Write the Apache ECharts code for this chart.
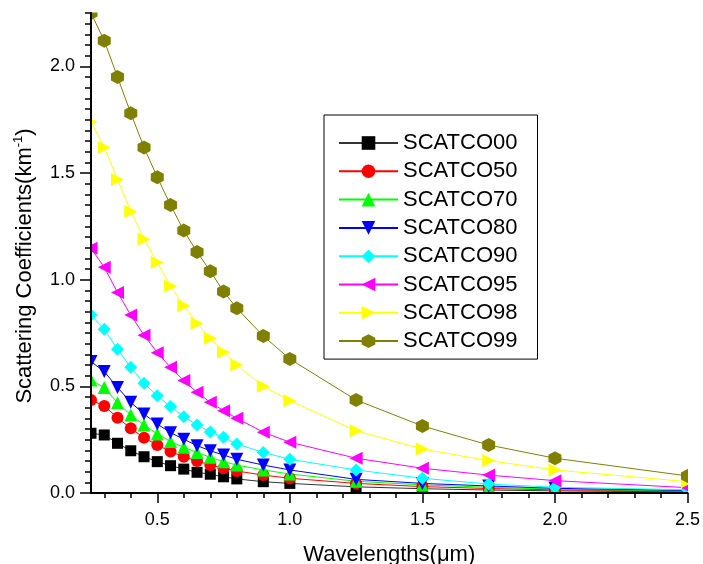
<!DOCTYPE html>
<html>
<head>
<meta charset="utf-8">
<script src="https://cdn.jsdelivr.net/npm/echarts@6/dist/echarts.min.js"></script>
<style>
html,body{margin:0;padding:0;background:#fff;}
#c{width:703px;height:564px;}
</style>
</head>
<body>
<div id="c"></div>
<script>
var wavelengths = [0.25,0.3,0.35,0.4,0.45,0.5,0.55,0.6,0.65,0.7,0.75,0.8,0.9,1.0,1.25,1.5,1.75,2.0,2.5];
var seriesNames = ['SCATCO00','SCATCO50','SCATCO70','SCATCO80','SCATCO90','SCATCO95','SCATCO98','SCATCO99'];
var scatco00 = [0.28,0.272,0.233,0.198,0.17,0.147,0.128,0.112,0.097,0.088,0.076,0.066,0.053,0.045,0.029,0.02,0.014,0.01,0.005];
var scatco50 = [0.436,0.408,0.353,0.303,0.259,0.225,0.194,0.17,0.15,0.131,0.116,0.103,0.084,0.069,0.045,0.03,0.021,0.015,0.008];
var scatco70 = [0.53,0.494,0.423,0.366,0.319,0.277,0.241,0.214,0.19,0.167,0.147,0.131,0.108,0.089,0.055,0.038,0.027,0.018,0.01];
var scatco80 = [0.616,0.569,0.495,0.425,0.37,0.323,0.283,0.252,0.222,0.198,0.178,0.158,0.131,0.108,0.064,0.045,0.033,0.022,0.012];
var scatco90 = [0.834,0.767,0.674,0.589,0.514,0.456,0.405,0.358,0.319,0.286,0.261,0.23,0.19,0.158,0.108,0.069,0.042,0.027,0.015];
var scatco95 = [1.147,1.058,0.94,0.834,0.74,0.658,0.589,0.527,0.472,0.425,0.386,0.35,0.285,0.238,0.163,0.116,0.084,0.058,0.025];
var scatco98 = [1.74,1.62,1.47,1.32,1.19,1.08,0.97,0.878,0.795,0.725,0.66,0.60,0.50,0.433,0.292,0.206,0.152,0.108,0.053];
var scatco99 = [2.25,2.12,1.95,1.78,1.62,1.48,1.35,1.23,1.13,1.04,0.944,0.866,0.736,0.628,0.436,0.314,0.225,0.163,0.08];
var xTickLabels = [0.5,1.0,1.5,2.0,2.5];
var yTickLabels = [0.0,0.5,1.0,1.5,2.0];

var allValues = [scatco00,scatco50,scatco70,scatco80,scatco90,scatco95,scatco98,scatco99];
var colors = ['#000000','#ff0000','#00ff00','#0000ff','#00ffff','#ff00ff','#ffff00','#808000'];
var lineColors = ['#333333','#ff0000','#00ff00','#0000ff','#00ffff','#ff00ff','#ffff00','#808000'];
var hexagon = 'path://M0,-1L0.866,-0.5L0.866,0.5L0,1L-0.866,0.5L-0.866,-0.5Z';
var symbols = ['rect','circle','triangle','triangle','diamond','triangle','triangle',hexagon];
var rotates = [0,0,0,180,0,90,-90,0];
var sizes = [11,12,13,13,13,13,13,[13,14]];

var xMinor = [];
for (var i = 3; i <= 25; i++) { if (i % 5 !== 0) xMinor.push(i / 10); }
var yMinor = [];
for (var j = 1; j <= 45; j++) { if (j % 10 !== 0) yMinor.push(j / 20); }

var FONT = '"Liberation Sans", Arial, sans-serif';

var series = seriesNames.map(function (name, k) {
  return {
    name: name,
    type: 'line',
    xAxisIndex: 0,
    yAxisIndex: 0,
    data: wavelengths.map(function (w, n) { return [w, allValues[k][n]]; }),
    symbol: symbols[k],
    symbolRotate: rotates[k],
    symbolSize: sizes[k],
    showAllSymbol: true,
    z: 2,
    itemStyle: { color: colors[k], opacity: 1 },
    lineStyle: { color: lineColors[k], width: 1 },
    emphasis: { disabled: true },
    animation: false
  };
});

var chart = echarts.init(document.getElementById('c'), null, { renderer: 'canvas' });
chart.setOption({
  backgroundColor: '#fff',
  animation: false,
  grid: { left: 91, right: 15.5, top: 13, bottom: 71, containLabel: false, outerBoundsMode: 'none' },
  xAxis: [{
    type: 'value', min: 0.25, max: 2.5, z: 100,
    name: 'Wavelengths(\u03bcm)', nameLocation: 'middle', nameGap: 51,
    nameTextStyle: { fontSize: 22, color: '#000', fontFamily: FONT },
    axisLine: { show: true, onZero: false, lineStyle: { color: '#000', width: 2 } },
    axisTick: { show: true, inside: false, length: 10, customValues: xTickLabels, lineStyle: { color: '#000', width: 1.5 } },
    axisLabel: { show: true, margin: 18, customValues: xTickLabels, fontSize: 18, color: '#000', fontFamily: FONT,
      formatter: function (v) { return v.toFixed(1); } },
    splitLine: { show: false }
  }, {
    type: 'value', min: 0.25, max: 2.5, position: 'bottom', z: 100,
    axisLine: { show: false },
    axisTick: { show: true, inside: false, length: 5, customValues: xMinor, lineStyle: { color: '#000', width: 1.5 } },
    axisLabel: { show: false },
    splitLine: { show: false }
  }],
  yAxis: [{
    type: 'value', min: 0, max: 2.25, z: 100,
    name: 'Scattering Coefficients(km{sup|-1})', nameLocation: 'middle', nameGap: 54,
    nameTextStyle: { fontSize: 22, color: '#000', fontFamily: FONT, padding: [0, 26, 0, 0],
      rich: { sup: { fontSize: 13, color: '#000', fontFamily: FONT, verticalAlign: 'top', padding: [0, 0, 12, 0] } } },
    axisLine: { show: true, onZero: false, lineStyle: { color: '#000', width: 2 } },
    axisTick: { show: true, inside: false, length: 11, customValues: yTickLabels, lineStyle: { color: '#000', width: 1.5 } },
    axisLabel: { show: true, margin: 16, customValues: yTickLabels, fontSize: 18, color: '#000', fontFamily: FONT,
      formatter: function (v) { return v.toFixed(1); } },
    splitLine: { show: false }
  }, {
    type: 'value', min: 0, max: 2.25, position: 'left', offset: 0, z: 100,
    axisLine: { show: false },
    axisTick: { show: true, inside: false, length: 6, customValues: yMinor, lineStyle: { color: '#000', width: 1.5 } },
    axisLabel: { show: false },
    splitLine: { show: false }
  }],
  legend: {
    orient: 'vertical', left: 324, top: 115, z: 100,
    padding: [17, 20, 7, 14],
    itemWidth: 59, itemHeight: 17, itemGap: 6.3,
    backgroundColor: '#fff', borderColor: '#000', borderWidth: 1, borderRadius: 0,
    textStyle: { fontSize: 22, color: '#000', fontFamily: FONT, lineHeight: 22 },
    selectedMode: false,
    data: seriesNames
  },
  graphic: [
    { type: 'rect', z: 50, silent: true, shape: { x: 0, y: 0, width: 90, height: 564 }, style: { fill: '#fff' } },
    { type: 'rect', z: 50, silent: true, shape: { x: 0, y: 0, width: 703, height: 12.5 }, style: { fill: '#fff' } },
    { type: 'rect', z: 50, silent: true, shape: { x: 688, y: 0, width: 15, height: 564 }, style: { fill: '#fff' } },
    { type: 'rect', z: 50, silent: true, shape: { x: 0, y: 494, width: 703, height: 70 }, style: { fill: '#fff' } }
  ],
  series: series
});
</script>
</body>
</html>
